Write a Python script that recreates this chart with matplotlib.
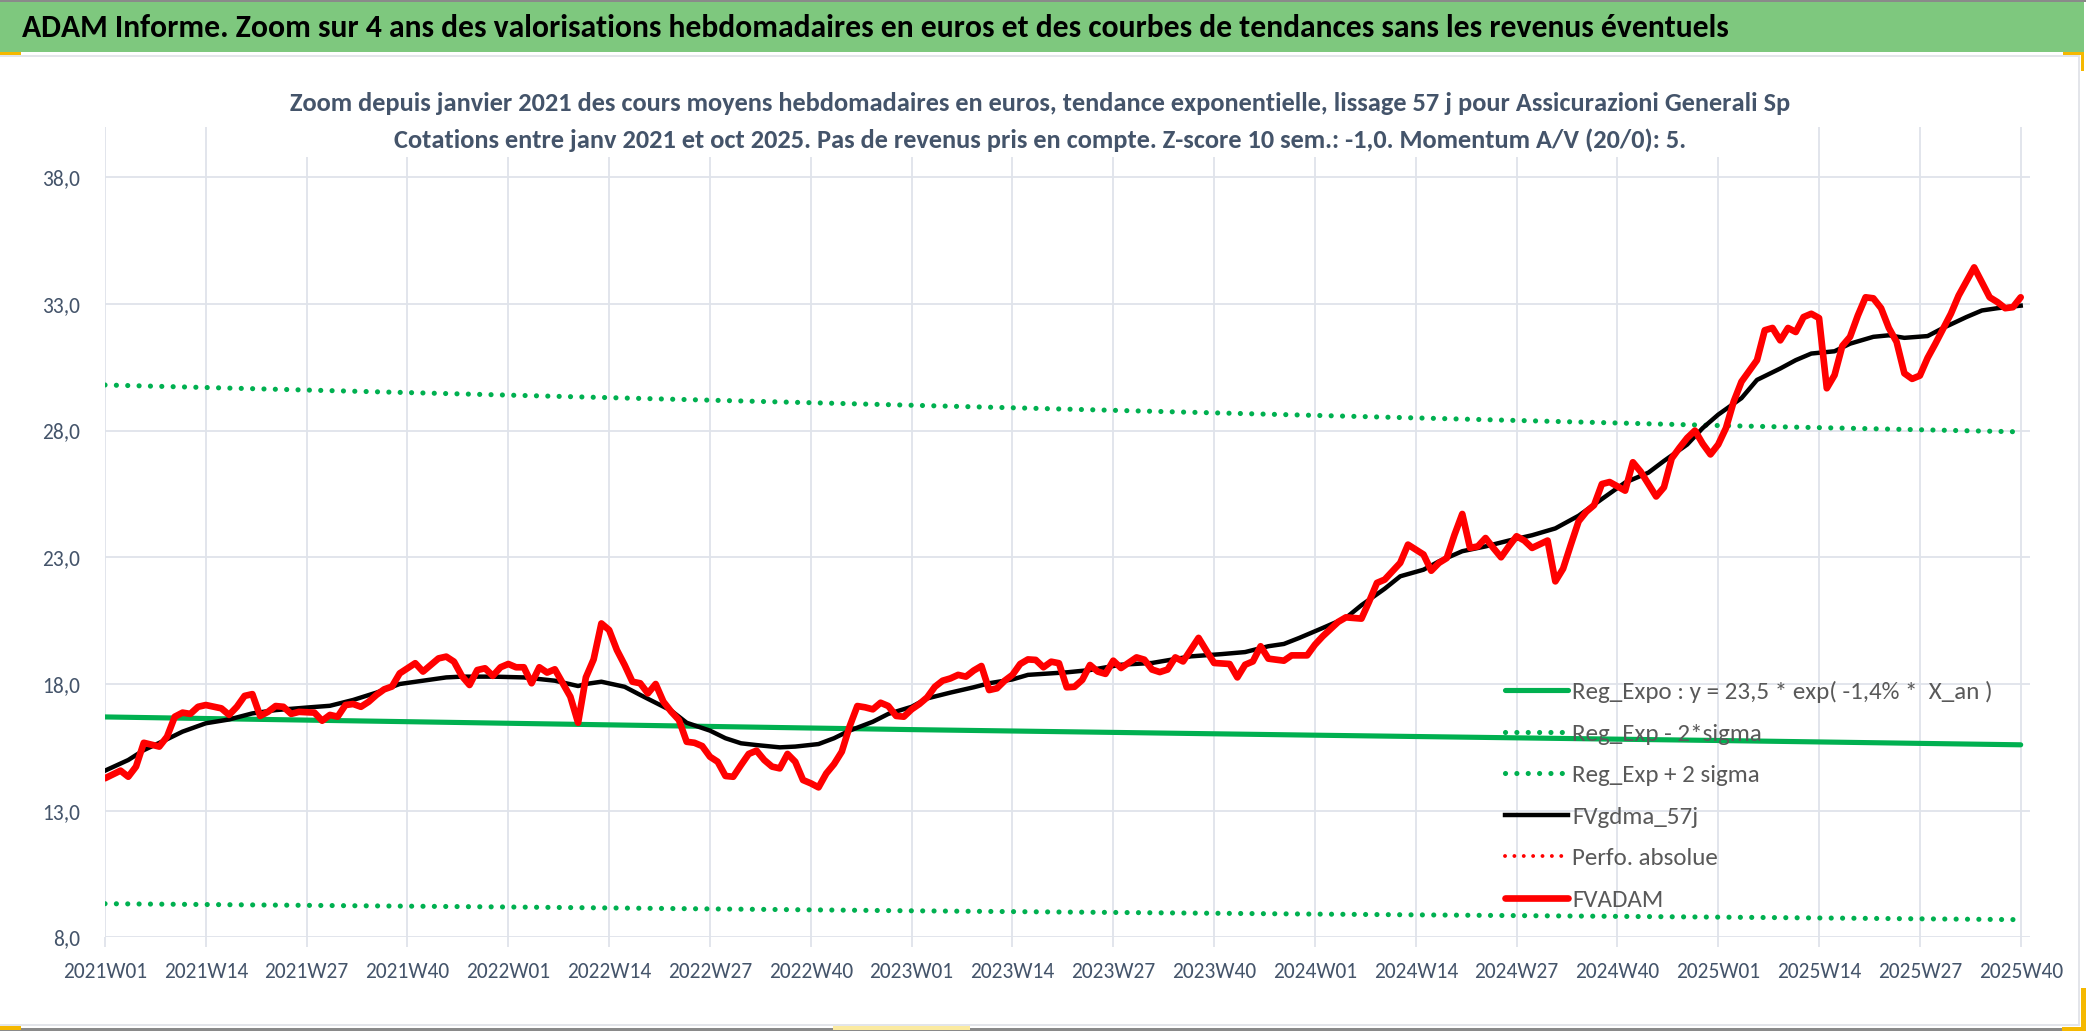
import matplotlib.pyplot as plt
from matplotlib.patches import Rectangle

# weekly categories: index 0 = 2021W01, one label every 13 weeks
label_weeks = [0, 13, 26, 39, 52, 65, 78, 91, 104, 117, 130, 143, 156, 169, 182, 195, 208, 221, 234, 247]
week_labels = ["2021W01", "2021W14", "2021W27", "2021W40", "2022W01", "2022W14", "2022W27", "2022W40",
               "2023W01", "2023W14", "2023W27", "2023W40", "2024W01", "2024W14", "2024W27", "2024W40",
               "2025W01", "2025W14", "2025W27", "2025W40"]
y_ticks = [8, 13, 18, 23, 28, 33, 38]

# FVADAM (weekly average price)
red_weeks = [0, 2, 3, 4, 5, 7, 8, 9, 10, 11,
             12, 13, 15, 16, 17, 18, 19, 20, 21, 22,
             23, 24, 25, 27, 28, 29, 30, 31, 32, 33,
             34, 35, 36, 37, 38, 39, 40, 41, 42, 43,
             44, 45, 46, 47, 48, 49, 50, 51, 52, 53,
             54, 55, 56, 57, 58, 60, 61, 62, 63, 64,
             65, 66, 67, 68, 69, 70, 71, 72, 73, 74,
             75, 76, 77, 78, 79, 80, 81, 82, 83, 84,
             85, 86, 87, 88, 89, 90, 91, 92, 93, 94,
             95, 96, 97, 98, 99, 100, 101, 102, 103, 104,
             105, 106, 107, 108, 109, 110, 111, 112, 113, 114,
             115, 116, 117, 118, 119, 120, 121, 122, 123, 124,
             125, 126, 127, 128, 129, 130, 131, 133, 134, 135,
             136, 137, 138, 139, 141, 142, 143, 145, 146, 147,
             148, 149, 150, 152, 153, 155, 156, 157, 159, 160,
             162, 163, 164, 165, 167, 168, 170, 171, 172, 173,
             174, 175, 176, 177, 178, 179, 180, 181, 182, 183,
             184, 186, 187, 188, 189, 190, 191, 192, 193, 194,
             196, 197, 198, 199, 200, 201, 202, 203, 204, 205,
             206, 207, 208, 209, 210, 211, 213, 214, 215, 216,
             217, 218, 219, 220, 221, 222, 223, 224, 225, 226,
             227, 228, 229, 230, 231, 232, 233, 234, 235, 236,
             237, 238, 239, 241, 242, 243, 244, 245, 246, 247]
red_vals = [14.28, 14.58, 14.34, 14.74, 15.68, 15.53, 15.92, 16.71, 16.87, 16.82,
            17.10, 17.17, 17.04, 16.78, 17.10, 17.53, 17.60, 16.74, 16.90, 17.13,
            17.10, 16.82, 16.90, 16.87, 16.55, 16.78, 16.71, 17.17, 17.21, 17.10,
            17.30, 17.57, 17.79, 17.90, 18.42, 18.62, 18.82, 18.49, 18.75, 19.01,
            19.08, 18.88, 18.32, 17.96, 18.55, 18.62, 18.32, 18.66, 18.79, 18.66,
            18.66, 18.03, 18.66, 18.45, 18.58, 17.50, 16.47, 18.26, 18.97, 20.39,
            20.13, 19.34, 18.75, 18.09, 18.03, 17.63, 18.00, 17.30, 16.91, 16.58,
            15.72, 15.68, 15.55, 15.13, 14.93, 14.37, 14.34, 14.80, 15.24, 15.37,
            15.00, 14.74, 14.67, 15.24, 14.93, 14.21, 14.08, 13.92, 14.47, 14.84,
            15.33, 16.32, 17.13, 17.08, 17.00, 17.26, 17.13, 16.74, 16.71, 17.00,
            17.21, 17.47, 17.89, 18.13, 18.22, 18.36, 18.29, 18.53, 18.71, 17.76,
            17.83, 18.13, 18.36, 18.79, 18.97, 18.95, 18.66, 18.88, 18.82, 17.87,
            17.89, 18.16, 18.75, 18.49, 18.40, 18.92, 18.63, 19.05, 18.96, 18.57,
            18.47, 18.57, 19.05, 18.89, 19.82, 19.32, 18.83, 18.79, 18.26, 18.76,
            18.89, 19.49, 19.00, 18.92, 19.13, 19.13, 19.55, 19.88, 20.45, 20.63,
            20.58, 21.26, 21.99, 22.12, 22.78, 23.50, 23.11, 22.47, 22.78, 22.97,
            23.89, 24.71, 23.37, 23.43, 23.76, 23.37, 23.00, 23.43, 23.83, 23.66,
            23.37, 23.66, 22.05, 22.55, 23.50, 24.42, 24.80, 25.06, 25.89, 25.97,
            25.63, 26.75, 26.38, 25.89, 25.40, 25.76, 26.90, 27.32, 27.71, 28.00,
            27.48, 27.06, 27.45, 28.10, 29.15, 29.93, 30.78, 31.96, 32.05, 31.56,
            32.05, 31.89, 32.48, 32.61, 32.44, 29.67, 30.19, 31.34, 31.70, 32.54,
            33.26, 33.22, 32.83, 32.05, 31.50, 30.26, 30.04, 30.17, 30.87, 31.43,
            32.02, 32.61, 33.33, 34.44, 33.85, 33.26, 33.07, 32.83, 32.87, 33.26]

# FVgdma_57j (smoothed curve)
black_weeks = [0, 3, 5, 8, 10, 13, 16, 19, 22, 26,
               29, 32, 35, 38, 41, 44, 46, 50, 54, 58,
               61, 62, 64, 67, 69, 71, 73, 75, 78, 80,
               82, 84, 87, 89, 92, 94, 96, 99, 101, 104,
               106, 109, 112, 114, 117, 119, 122, 124, 127, 131,
               135, 140, 144, 147, 150, 152, 154, 157, 160, 162,
               165, 167, 170, 172, 175, 178, 181, 184, 187, 190,
               193, 196, 199, 201, 204, 206, 208, 211, 213, 216,
               218, 220, 223, 225, 228, 230, 232, 235, 237, 240,
               242, 244, 247]
black_vals = [14.58, 15.00, 15.39, 15.82, 16.12, 16.45, 16.60, 16.84, 16.97, 17.07,
              17.14, 17.37, 17.66, 18.00, 18.13, 18.26, 18.29, 18.29, 18.26, 18.13,
              17.92, 18.00, 18.09, 17.89, 17.57, 17.26, 16.95, 16.47, 16.16, 15.86,
              15.66, 15.59, 15.50, 15.53, 15.63, 15.86, 16.16, 16.51, 16.82, 17.10,
              17.43, 17.66, 17.87, 18.03, 18.18, 18.36, 18.42, 18.46, 18.55, 18.76,
              18.83, 19.09, 19.18, 19.26, 19.49, 19.58, 19.82, 20.21, 20.61, 21.11,
              21.76, 22.25, 22.51, 22.84, 23.24, 23.43, 23.66, 23.87, 24.14, 24.64,
              25.30, 25.95, 26.34, 26.80, 27.45, 28.10, 28.63, 29.28, 30.00, 30.45,
              30.78, 31.04, 31.13, 31.43, 31.70, 31.76, 31.66, 31.73, 32.05, 32.48,
              32.74, 32.83, 32.93]

# regression lines, read at the start of each year and at the end
trend_weeks = [0, 52, 104, 156, 208, 247]
reg_expo = [16.70, 16.45, 16.20, 15.98, 15.77, 15.60]
reg_minus = [9.33, 9.20, 9.05, 8.92, 8.80, 8.70]
reg_plus = [29.80, 29.40, 29.00, 28.60, 28.20, 27.95]

W, H = 2086, 1031
GREEN = '#00b050'
GRID = '#dfe3ea'
TXT = '#44546a'

plt.rcParams['font.family'] = ['Carlito', 'Liberation Sans Narrow', 'DejaVu Sans']

fig = plt.figure(figsize=(W / 100, H / 100), dpi=100)


def px_rect(x0, y0, x1, y1, color):
    # rectangle given in picture pixels, origin top-left
    fig.patches.append(Rectangle((x0 / W, 1 - y1 / H), (x1 - x0) / W, (y1 - y0) / H,
                                 transform=fig.transFigure, facecolor=color,
                                 edgecolor='none', zorder=0))


# frame and title band
px_rect(0, 0, W, 2, '#8a8a8a')
px_rect(0, 2, 2084, 52, '#7ec87e')
px_rect(0, 55, 2080, 57, '#e3e5ea')
px_rect(2078, 55, 2080, 1026, '#e3e5ea')
px_rect(0, 1024, 2080, 1026, '#e3e5ea')
px_rect(0, 1028, W, 1031, '#8a8a8a')
# excel selection handles
px_rect(0, 52, 21, 55, '#f5b800')
px_rect(2063, 52, 2084, 55, '#f5b800')
px_rect(2081, 52, 2084, 71, '#f5b800')
px_rect(2081, 988, W, 1031, '#f5b800')
px_rect(2062, 1027, W, 1031, '#f5b800')
px_rect(0, 1026, 21, 1030, '#f5b800')
px_rect(833, 1026, 970, 1030, '#fbeaa0')

fig.text(22 / W, 1 - 28 / H,
         "ADAM Informe. Zoom sur 4 ans des valorisations hebdomadaires en euros et des courbes de tendances sans les revenus éventuels",
         fontsize=22.8, fontweight='bold', color='black', va='center', ha='left')

ax = fig.add_axes([105 / W, 1 - 937.4 / H, (2030 - 105) / W, (937.4 - 126.5) / H])

ax.plot(trend_weeks, reg_expo, color=GREEN, lw=3.7, solid_capstyle='round',
        label="Reg_Expo : y = 23,5 * exp( -1,4% *  X_an )")
ax.plot(trend_weeks, reg_minus, color=GREEN, lw=3.7, linestyle=(0, (0.01, 2.2)),
        dash_capstyle='round', label="Reg_Exp - 2*sigma")
ax.plot(trend_weeks, reg_plus, color=GREEN, lw=3.7, linestyle=(0, (0.01, 2.2)),
        dash_capstyle='round', label="Reg_Exp + 2 sigma")
ax.plot(black_weeks, black_vals, color='black', lw=3.2, solid_joinstyle='round',
        label="FVgdma_57j")
ax.plot([], [], color='#ff0000', lw=2.8, linestyle=(0, (0.01, 2.4)),
        dash_capstyle='round', label="Perfo. absolue")
ax.plot(red_weeks, red_vals, color='#ff0000', lw=4.8, solid_joinstyle='round',
        solid_capstyle='round', label="FVADAM")

ax.set_xlim(0, 248.2)
ax.set_ylim(8, 40)
ax.set_xticks(label_weeks)
ax.set_xticklabels(week_labels)
ax.set_yticks(y_ticks)
ax.set_yticklabels([f"{v:.1f}".replace('.', ',') for v in y_ticks])
ax.grid(True, color=GRID, lw=1.3)
ax.set_axisbelow(True)
for s in ax.spines.values():
    s.set_visible(False)
ax.tick_params(axis='x', length=7, width=1.3, color=GRID, labelsize=15.5, labelcolor=TXT, pad=11)
ax.tick_params(axis='y', length=0, labelsize=15.5, labelcolor=TXT, pad=18)

leg = ax.legend(loc='upper left', bbox_to_anchor=(1505 / W, 1 - 681 / H),
                bbox_transform=fig.transFigure, frameon=False, fontsize=18,
                handlelength=2.5, handletextpad=0.2, labelspacing=0.8,
                borderpad=0, borderaxespad=0)
for t in leg.get_texts():
    t.set_color('#595959')

fig.text(1040 / W, 1 - 122 / H,
         "Zoom depuis janvier 2021 des cours moyens hebdomadaires en euros, tendance exponentielle, lissage 57 j pour Assicurazioni Generali Sp\n"
         "Cotations entre janv 2021 et oct 2025. Pas de revenus pris en compte. Z-score 10 sem.: -1,0. Momentum A/V (20/0): 5.",
         fontsize=19, fontweight='bold', color=TXT, ha='center', va='center',
         linespacing=1.72, bbox=dict(facecolor='white', edgecolor='none', pad=3))

fig.savefig("out.png", dpi=100)
